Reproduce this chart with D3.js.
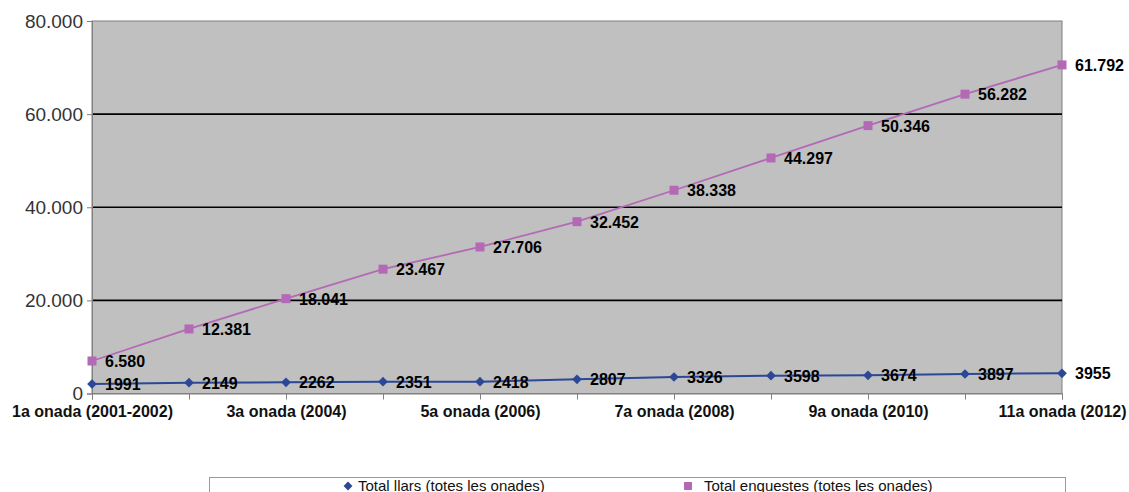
<!DOCTYPE html>
<html><head><meta charset="utf-8">
<script src="https://cdn.jsdelivr.net/npm/d3@7"></script>
<style>body{margin:0;background:#fff;}svg{display:block;font-family:"Liberation Sans",Arial,sans-serif;}</style>
</head><body>
<svg id="c" width="1129" height="492"></svg>
<script>
const categories = ["1a onada (2001-2002)","2a onada","3a onada (2004)","4a onada","5a onada (2006)","6a onada","7a onada (2008)","8a onada","9a onada (2010)","10a onada","11a onada (2012)"];
const shownCategories = ["1a onada (2001-2002)","3a onada (2004)","5a onada (2006)","7a onada (2008)","9a onada (2010)","11a onada (2012)"];
// plotted positions
const llarsValues = [2040, 2320, 2400, 2540, 2540, 3050, 3540, 3820, 3910, 4190, 4340];
const llarsLabels = ["1991","2149","2262","2351","2418","2807","3326","3598","3674","3897","3955"];
const enquestesValues = [6980, 13860, 20370, 26700, 31470, 36910, 43650, 50590, 57530, 64280, 70570];
const enquestesLabels = ["6.580","12.381","18.041","23.467","27.706","32.452","38.338","44.297","50.346","56.282","61.792"];
const yTicks = [0, 20000, 40000, 60000, 80000];
const yTickLabels = ["0","20.000","40.000","60.000","80.000"];
const seriesNames = ["Total llars (totes les onades)","Total enquestes (totes les onades)"];

const svg = d3.select("#c");
const L = 92, R = 1062, T = 21, B = 393.5;
const x = d3.scalePoint().domain(categories).range([L, R]);
const y = d3.scaleLinear().domain([0, 80000]).range([B, T]);

svg.append("rect").attr("x", L).attr("y", T).attr("width", R - L).attr("height", B - T)
  .attr("fill", "#c0c0c0").attr("stroke", "#808080").attr("stroke-width", 1);

// gridlines
svg.append("g").selectAll("line").data(yTicks.filter(d => d > 0 && d < 80000)).join("line")
  .attr("x1", L).attr("x2", R).attr("y1", d => y(d)).attr("y2", d => y(d))
  .attr("stroke", "#000").attr("stroke-width", 1.6);

// y axis
const yAxis = d3.axisLeft(y).tickValues(yTicks).tickSize(5).tickPadding(4)
  .tickFormat((d, i) => yTickLabels[i]);
const gy = svg.append("g").attr("transform", `translate(${L},0)`).call(yAxis);
gy.select(".domain").attr("stroke", "#808080");
gy.selectAll(".tick line").attr("stroke", "#808080");
gy.selectAll(".tick text").attr("font-size", 19).attr("fill", "#333")
  .attr("font-family", "Liberation Sans, Arial, sans-serif");

// x axis
const xAxis = d3.axisBottom(x).tickSize(6).tickPadding(6)
  .tickFormat(d => shownCategories.includes(d) ? d : "");
const gx = svg.append("g").attr("transform", `translate(0,${B})`).call(xAxis);
gx.select(".domain").attr("stroke", "#808080");
gx.selectAll(".tick line").attr("stroke", "#808080");
gx.selectAll(".tick text").attr("font-size", 16).attr("font-weight", "bold").attr("fill", "#111")
  .attr("font-family", "Liberation Sans, Arial, sans-serif");

const blue = "#2b4796", purple = "#b469b6";
const line = d3.line().x((d, i) => x(categories[i])).y(d => y(d));

svg.append("path").datum(enquestesValues).attr("d", line).attr("fill", "none")
  .attr("stroke", purple).attr("stroke-width", 1.8);
svg.append("path").datum(llarsValues).attr("d", line).attr("fill", "none")
  .attr("stroke", blue).attr("stroke-width", 2);

svg.append("g").selectAll("rect").data(enquestesValues).join("rect")
  .attr("x", (d, i) => x(categories[i]) - 4.5).attr("y", d => y(d) - 4.5)
  .attr("width", 9).attr("height", 9).attr("fill", purple);
const diamond = d3.symbol().type(d3.symbolDiamond2).size(60);
svg.append("g").selectAll("path").data(llarsValues).join("path")
  .attr("d", diamond).attr("transform", (d, i) => `translate(${x(categories[i])},${y(d)})`)
  .attr("fill", blue);

const lblSize = 16;
svg.append("g").selectAll("text").data(enquestesValues).join("text")
  .attr("x", (d, i) => x(categories[i]) + 13).attr("y", d => y(d) + 6)
  .attr("font-size", lblSize).attr("font-weight", "bold").attr("fill", "#000")
  .text((d, i) => enquestesLabels[i]);
svg.append("g").selectAll("text").data(llarsValues).join("text")
  .attr("x", (d, i) => x(categories[i]) + 13).attr("y", d => y(d) + 6)
  .attr("font-size", lblSize).attr("font-weight", "bold").attr("fill", "#000")
  .text((d, i) => llarsLabels[i]);

// legend
svg.append("rect").attr("x", 209.5).attr("y", 477.5).attr("width", 856).attr("height", 30)
  .attr("fill", "#fff").attr("stroke", "#999").attr("stroke-width", 1);
const lg = svg.append("g");
lg.append("path").attr("d", d3.symbol().type(d3.symbolDiamond2).size(50))
  .attr("transform", "translate(348,486)").attr("fill", blue);
lg.append("text").attr("x", 358).attr("y", 491).attr("font-size", 15).attr("fill", "#111").text(seriesNames[0]);
lg.append("rect").attr("x", 684).attr("y", 482).attr("width", 8).attr("height", 8).attr("fill", purple);
lg.append("text").attr("x", 704).attr("y", 491).attr("font-size", 15).attr("fill", "#111").text(seriesNames[1]);
</script>
</body></html>
